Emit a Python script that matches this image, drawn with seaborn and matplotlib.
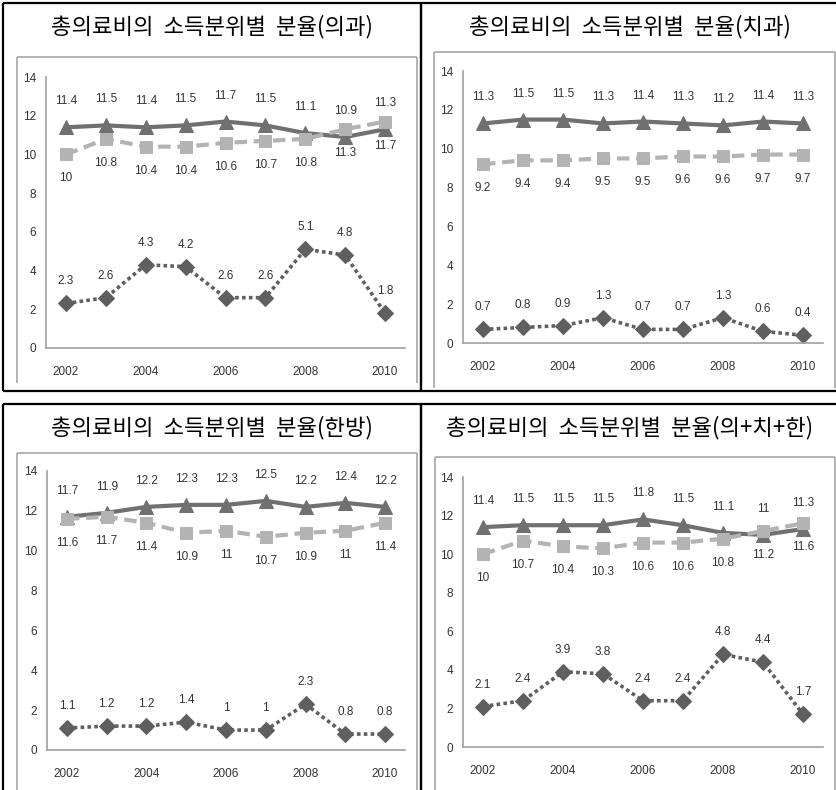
import matplotlib
matplotlib.use("Agg")
import matplotlib.pyplot as plt
from matplotlib import font_manager
from matplotlib.lines import Line2D
import seaborn as sns
import pandas as pd

years = [2002, 2003, 2004, 2005, 2006, 2007, 2008, 2009, 2010]
year_ticks = [2002, 2004, 2006, 2008, 2010]

titles = ["총의료비의  소득분위별  분율(의과)", "총의료비의  소득분위별  분율(치과)",
          "총의료비의  소득분위별  분율(한방)", "총의료비의  소득분위별  분율(의+치+한)"]

# 의과
med_tri = [11.4, 11.5, 11.4, 11.5, 11.7, 11.5, 11.1, 10.9, 11.3]
med_sq = [10, 10.8, 10.4, 10.4, 10.6, 10.7, 10.8, 11.3, 11.7]
med_dia = [2.3, 2.6, 4.3, 4.2, 2.6, 2.6, 5.1, 4.8, 1.8]
# 치과
den_tri = [11.3, 11.5, 11.5, 11.3, 11.4, 11.3, 11.2, 11.4, 11.3]
den_sq = [9.2, 9.4, 9.4, 9.5, 9.5, 9.6, 9.6, 9.7, 9.7]
den_dia = [0.7, 0.8, 0.9, 1.3, 0.7, 0.7, 1.3, 0.6, 0.4]
# 한방
orm_tri = [11.7, 11.9, 12.2, 12.3, 12.3, 12.5, 12.2, 12.4, 12.2]
orm_sq = [11.6, 11.7, 11.4, 10.9, 11, 10.7, 10.9, 11, 11.4]
orm_dia = [1.1, 1.2, 1.2, 1.4, 1, 1, 2.3, 0.8, 0.8]
# 의+치+한
tot_tri = [11.4, 11.5, 11.5, 11.5, 11.8, 11.5, 11.1, 11, 11.3]
tot_sq = [10, 10.7, 10.4, 10.3, 10.6, 10.6, 10.8, 11.2, 11.6]
tot_dia = [2.1, 2.4, 3.9, 3.8, 2.4, 2.4, 4.8, 4.4, 1.7]

panels = [(med_tri, med_sq, med_dia), (den_tri, den_sq, den_dia),
          (orm_tri, orm_sq, orm_dia), (tot_tri, tot_sq, tot_dia)]

sns.set_style("white")
names = {f.name for f in font_manager.fontManager.ttflist}
num_font = "Liberation Sans Narrow" if "Liberation Sans Narrow" in names else "Liberation Sans"
plt.rcParams["font.family"] = ["Noto Sans CJK KR", "DejaVu Sans"]

W, H = 836, 790
fig = plt.figure(figsize=(W / 100, H / 100), dpi=100)


def fx(x):
    return x / W


def fy(y):
    return 1 - y / H


def line(x0, y0, x1, y1, color, lw):
    fig.add_artist(Line2D([fx(x0), fx(x1)], [fy(y0), fy(y1)], color=color, lw=lw,
                          transform=fig.transFigure, solid_capstyle="butt"))


# outer frames
for (x0, y0, x1, y1) in [(3, 3, 421, 391), (421, 3, 840, 391), (3, 404, 421, 795), (421, 404, 840, 795)]:
    line(x0, y0, x1, y0, "black", 1.6)
    line(x0, y1, x1, y1, "black", 1.6)
    line(x0, y0, x0, y1, "black", 1.6)
    line(x1, y0, x1, y1, "black", 1.6)

# inner chart boxes (open at bottom)
for (x0, y0, x1, y1) in [(17, 57, 417, 383), (434, 52, 835, 388), (17, 453, 417, 795), (435, 457, 835, 795)]:
    line(x0, y0, x1, y0, "#a6a6a6", 1.2)
    line(x0, y0, x0, y1, "#a6a6a6", 1.2)
    line(x1, y0, x1, y1, "#a6a6a6", 1.2)

# axes boxes: left, top(14), right, bottom(0) in pixels
boxes = [(46, 77, 405, 348), (463, 71, 823, 343), (47, 471, 405, 750), (463, 477, 823, 747)]
title_pos = [(212, 27), (630, 27), (212, 428), (630, 428)]

styles = [
    dict(color="#707070", ls="-", lw=3.0, marker="^", ms=10, off=20, va="bottom"),
    dict(color="#b3b3b3", ls=(0, (3, 1.6)), lw=3.0, marker="s", ms=9, off=-18, va="top"),
    dict(color="#5f5f5f", ls=(0, (1, 0.9)), lw=2.6, marker="D", ms=8, off=16, va="bottom"),
]

for i, (box, series) in enumerate(zip(boxes, panels)):
    l, t, r, b = box
    ax = fig.add_axes([fx(l), fy(b), fx(r - l), (b - t) / H])
    ax.set_facecolor("none")
    for vals, st in zip(series, styles):
        df = pd.DataFrame({"year": years, "v": vals})
        sns.lineplot(data=df, x="year", y="v", ax=ax, color=st["color"], linestyle=st["ls"],
                     lw=st["lw"], marker=st["marker"], markersize=st["ms"],
                     markeredgecolor=st["color"], markerfacecolor=st["color"])
        for x, v in zip(years, vals):
            ax.annotate(f"{v:g}", (x, v), xytext=(0, st["off"]), textcoords="offset pixels",
                        ha="center", va=st["va"], fontsize=8.5, color="#333333", family=num_font)
    ax.set_xlim(2001.5, 2010.5)
    ax.set_ylim(0, 14)
    ax.set_xticks(year_ticks)
    ax.set_yticks(range(0, 15, 2))
    ax.set_xlabel("")
    ax.set_ylabel("")
    for lab in ax.get_xticklabels() + ax.get_yticklabels():
        lab.set_family(num_font)
        lab.set_fontsize(8.5)
        lab.set_color("#333333")
    ax.tick_params(axis="x", length=0, pad=13)
    ax.tick_params(axis="y", length=0, pad=7)
    for s in ["top", "right"]:
        ax.spines[s].set_visible(False)
    for s in ["left", "bottom"]:
        ax.spines[s].set_color("#a0a0a0")
        ax.spines[s].set_linewidth(1.2)
    ax.grid(False)
    fig.text(fx(title_pos[i][0]), fy(title_pos[i][1]), titles[i], ha="center", va="center",
             fontsize=16, color="black")

fig.savefig("out.png", dpi=100)
